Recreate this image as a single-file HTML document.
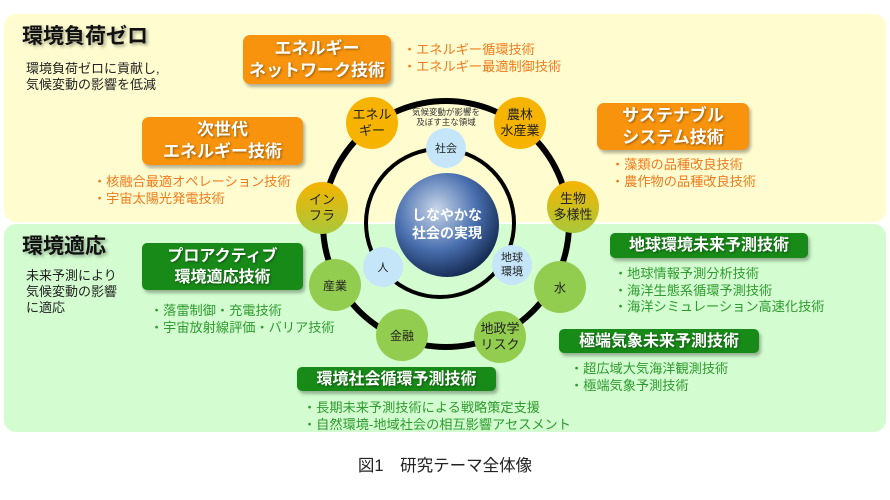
<!DOCTYPE html>
<html><head><meta charset="utf-8"><style>
body{margin:0;width:890px;height:500px;background:#fff;position:relative;overflow:hidden;font-family:"Liberation Sans","Noto Sans CJK JP",sans-serif}
.a{position:absolute;white-space:nowrap}
.panel{position:absolute;border-radius:12px}
.ob{position:absolute;background:#f7930c;border-radius:7px;color:#fff;font-weight:bold;font-size:17px;line-height:22px;text-align:center;box-shadow:2px 3px 3px rgba(0,0,0,.3);text-shadow:1px 1px 2px rgba(0,0,0,.4);display:flex;flex-direction:column;justify-content:center}
.gb{position:absolute;background:#178a17;border-radius:5px;color:#fff;font-weight:bold;font-size:16px;line-height:21px;text-align:center;box-shadow:2px 3px 3px rgba(0,0,0,.3);text-shadow:1px 1px 2px rgba(0,0,0,.4);display:flex;flex-direction:column;justify-content:center}
.ot{color:#f07a1e;font-size:13.2px;line-height:16.5px}
.gt{color:#2f9a2f;font-size:13.2px;line-height:16.5px}
.h{font-size:21px;font-weight:bold;color:#111;text-shadow:2px 2px 3px rgba(0,0,0,.35)}
.d{font-size:13px;line-height:16px;color:#222}
</style></head><body>
<div class="panel" style="left:4px;top:14px;width:882px;height:208px;background:#fffdd0"></div>
<div class="panel" style="left:4px;top:224px;width:882px;height:208px;background:#d3fdd0"></div>

<div class="a h" style="left:22px;top:20px">環境負荷ゼロ</div>
<div class="a d" style="left:26px;top:61px">環境負荷ゼロに貢献し,<br>気候変動の影響を低減</div>
<div class="a h" style="left:22px;top:230px">環境適応</div>
<div class="a d" style="left:26px;top:268px">未来予測により<br>気候変動の影響<br>に適応</div>

<div class="ob" style="left:243px;top:35px;width:148px;height:49px"><div>エネルギー</div><div>ネットワーク技術</div></div>
<div class="a ot" style="left:403px;top:42px">・エネルギー循環技術<br>・エネルギー最適制御技術</div>
<div class="ob" style="left:142px;top:117px;width:161px;height:48px"><div>次世代</div><div>エネルギー技術</div></div>
<div class="a ot" style="left:93px;top:174px">・核融合最適オペレーション技術<br>・宇宙太陽光発電技術</div>
<div class="ob" style="left:597px;top:103px;width:152px;height:47px"><div>サステナブル</div><div>システム技術</div></div>
<div class="a ot" style="left:611px;top:157px">・藻類の品種改良技術<br>・農作物の品種改良技術</div>

<div class="gb" style="left:142px;top:243px;width:161px;height:47px"><div>プロアクティブ</div><div>環境適応技術</div></div>
<div class="a gt" style="left:150px;top:303px">・落雷制御・充電技術<br>・宇宙放射線評価・バリア技術</div>
<div class="gb" style="left:610px;top:233px;width:198px;height:25px">地球環境未来予測技術</div>
<div class="a gt" style="left:614px;top:266px">・地球情報予測分析技術<br>・海洋生態系循環予測技術<br>・海洋シミュレーション高速化技術</div>
<div class="gb" style="left:559px;top:329px;width:200px;height:24px">極端気象未来予測技術</div>
<div class="a gt" style="left:570px;top:361px">・超広域大気海洋観測技術<br>・極端気象予測技術</div>
<div class="gb" style="left:297px;top:367px;width:199px;height:24px">環境社会循環予測技術</div>
<div class="a gt" style="left:303px;top:400px">・長期未来予測技術による戦略策定支援<br>・自然環境-地域社会の相互影響アセスメント</div>

<div class="a" style="left:0;width:890px;top:452px;text-align:center;font-size:16.5px;color:#222">図1　研究テーマ全体像</div>

<svg class="a" style="left:0;top:0" width="890" height="500" font-family="Liberation Sans, Noto Sans CJK JP, sans-serif">
<defs>
<linearGradient id="cg" x1="0" y1="0" x2="0" y2="1"><stop offset="0" stop-color="#f6b400"/><stop offset="1" stop-color="#a8c83a"/></linearGradient>
<radialGradient id="eg" cx="0.4" cy="0.35" r="0.7"><stop offset="0" stop-color="#c8d6e8"/><stop offset="0.55" stop-color="#4a70b0"/><stop offset="1" stop-color="#10244a"/></radialGradient>
</defs>
<circle cx="446" cy="224" r="123" fill="none" stroke="#000" stroke-width="6"/>
<circle cx="440" cy="223" r="74" fill="none" stroke="#000" stroke-width="4"/>
<circle cx="447" cy="225" r="52" fill="url(#eg)"/>
<text x="447" y="220" text-anchor="middle" font-size="14" font-weight="bold" fill="#fff">しなやかな</text>
<text x="447" y="238" text-anchor="middle" font-size="14" font-weight="bold" fill="#fff">社会の実現</text>
<text x="446" y="115" text-anchor="middle" font-size="8.5" fill="#333">気候変動が影響を</text>
<text x="446" y="125" text-anchor="middle" font-size="8.5" fill="#333">及ぼす主な領域</text>
<g fill="#c5e6f8"><circle cx="446" cy="148" r="20"/><circle cx="383" cy="267" r="20"/><circle cx="512" cy="265" r="20"/></g>
<g font-size="11" fill="#222" text-anchor="middle">
<text x="446" y="152">社会</text><text x="383" y="271">人</text><text x="512" y="261">地球</text><text x="512" y="275">環境</text>
</g>
<g>
<circle cx="372" cy="123" r="26" fill="#f6b400"/>
<circle cx="520" cy="123" r="26" fill="#f6b400"/>
<circle cx="322" cy="208" r="26" fill="url(#cg)"/>
<circle cx="573" cy="207" r="26" fill="url(#cg)"/>
<circle cx="335" cy="285" r="26" fill="#92cd50"/>
<circle cx="560" cy="287" r="26" fill="#92cd50"/>
<circle cx="402" cy="335" r="26" fill="#92cd50"/>
<circle cx="500" cy="337" r="26" fill="#92cd50"/>
</g>
<g font-size="13" fill="#222" text-anchor="middle">
<text x="372" y="119">エネル</text><text x="372" y="135">ギー</text>
<text x="520" y="119">農林</text><text x="520" y="135">水産業</text>
<text x="322" y="204">イン</text><text x="322" y="220">フラ</text>
<text x="573" y="203">生物</text><text x="573" y="219">多様性</text>
<text x="335" y="290" font-size="12">産業</text>
<text x="560" y="292" font-size="12">水</text>
<text x="402" y="340" font-size="12">金融</text>
<text x="500" y="333">地政学</text><text x="500" y="349">リスク</text>
</g>
</svg>
</body></html>
